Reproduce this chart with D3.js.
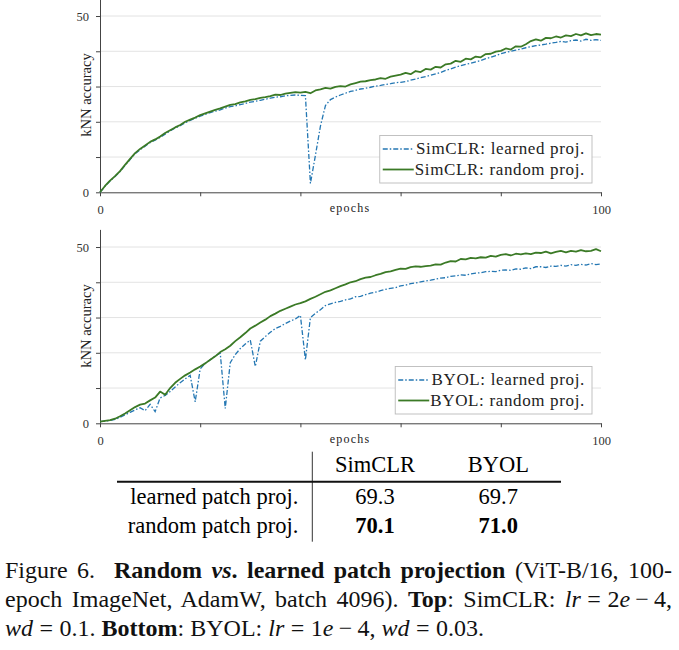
<!DOCTYPE html>
<html>
<head>
<meta charset="utf-8">
<title>Random vs. learned patch projection</title>
<script src="https://d3js.org/d3.v7.min.js"></script>
<style>
body { margin: 0; background: #fff; }
text { font-family: "Liberation Serif", "Times New Roman", serif; }
</style>
</head>
<body>
<svg id="fig"></svg>
<script>
// kNN accuracy per epoch (index = epoch, 0..100)
var simclrLearned = [
  0, 1.7, 3.2, 4.5, 5.9, 7.6, 9.3, 10.9, 12.1, 13.1,
  14.1, 14.8, 15.6, 16.5, 17.4, 18.2, 18.9, 19.7, 20.4, 21.0,
  21.6, 22.1, 22.6, 23.0, 23.4, 23.9, 24.3, 24.5, 24.9, 25.2,
  25.6, 25.8, 26.1, 26.4, 26.7, 27.0, 27.1, 27.4, 27.5, 27.6,
  27.5, 27.4, 2.5, 10.5, 18.8, 24.6, 26.3, 27.0, 27.6, 28.1,
  28.6, 28.9, 29.3, 29.5, 29.8, 30.1, 30.3, 30.6, 30.8, 31.1,
  31.2, 31.4, 31.8, 32.1, 32.5, 32.8, 33.2, 33.6, 34.0, 34.6,
  35.0, 35.5, 35.9, 36.3, 36.6, 37.0, 37.4, 37.9, 38.3, 38.8,
  39.3, 39.7, 40.0, 40.3, 40.6, 41.0, 41.3, 41.6, 41.8, 42.0,
  42.3, 42.5, 42.8, 42.6, 43.0, 43.2, 42.9, 43.4, 43.1, 43.3,
  43.1];
var simclrRandom = [
  0, 1.8, 3.3, 4.6, 6.0, 7.8, 9.5, 11.1, 12.3, 13.3,
  14.3, 15.0, 15.8, 16.8, 17.6, 18.4, 19.1, 20.0, 20.6, 21.2,
  21.9, 22.4, 22.9, 23.4, 23.8, 24.3, 24.8, 25.0, 25.5, 25.8,
  26.2, 26.4, 26.8, 27.0, 27.3, 27.7, 27.6, 28.0, 28.2, 28.4,
  28.3, 28.5, 28.1, 28.9, 29.2, 29.6, 29.4, 29.9, 30.1, 30.0,
  30.6, 31.0, 31.4, 31.5, 31.8, 32.0, 32.4, 32.2, 32.8, 33.1,
  33.4, 33.9, 33.5, 34.4, 34.1, 35.0, 34.8, 35.6, 35.4, 36.3,
  36.5, 37.3, 37.0, 37.9, 37.7, 38.5, 38.3, 39.2, 39.3, 39.9,
  40.1, 40.8, 40.5, 41.4, 41.3, 42.0, 42.9, 43.4, 43.0, 43.8,
  43.7, 44.2, 43.9, 44.5, 44.3, 44.9, 44.5, 45.1, 44.6, 44.9,
  44.7];
var byolLearned = [
  0.5, 0.6, 0.8, 1.1, 1.7, 2.4, 3.1, 3.8, 4.4, 3.6,
  5.4, 3.3, 7.2, 7.9, 9.0, 10.3, 11.5, 12.6, 13.6, 6.1,
  15.4, 17.0, 18.0, 19.1, 19.9, 4.2, 17.2, 19.5, 21.2, 22.5,
  23.6, 16.1, 23.3, 24.6, 25.8, 26.9, 27.5, 28.3, 29.0, 29.6,
  30.6, 18.0, 30.0, 31.2, 32.2, 33.4, 33.9, 34.3, 34.6, 35.0,
  35.3, 35.9, 36.0, 36.5, 36.9, 37.2, 37.6, 38.0, 38.3, 38.5,
  39.0, 39.2, 39.6, 39.8, 40.1, 40.4, 40.6, 40.9, 41.2, 41.3,
  41.7, 41.8, 42.1, 42.0, 42.4, 42.6, 42.7, 43.0, 43.1, 43.0,
  43.4, 43.5, 43.4, 43.8, 43.7, 44.1, 43.9, 44.4, 44.4, 44.2,
  44.6, 44.5, 44.8, 44.6, 45.0, 44.8, 45.1, 44.9, 45.3, 45.0,
  45.2];
var byolRandom = [
  0.5, 0.7, 0.9, 1.3, 2.0, 2.8, 3.7, 4.6, 5.3, 5.6,
  6.5, 7.3, 9.0, 8.1, 10.0, 11.5, 12.6, 13.6, 14.4, 15.3,
  16.1, 17.0, 18.0, 19.0, 20.2, 21.0, 22.0, 23.3, 24.4, 25.6,
  26.9, 27.7, 28.6, 29.4, 30.4, 31.1, 31.9, 32.5, 33.1, 33.7,
  34.1, 34.6, 35.3, 35.9, 36.6, 37.3, 37.7, 38.3, 38.9, 39.4,
  40.0, 40.3, 40.9, 41.3, 41.5, 42.0, 42.4, 42.9, 43.1, 43.5,
  43.9, 43.8, 44.3, 44.5, 44.4, 44.6, 44.7, 45.1, 45.0, 45.6,
  46.0, 45.9, 46.6, 46.5, 46.9, 46.8, 47.1, 47.0, 47.5, 47.3,
  47.8, 48.0, 47.6, 48.1, 47.9, 48.2, 48.0, 48.4, 48.3, 48.7,
  48.2, 48.6, 48.9, 48.5, 48.9, 48.7, 49.1, 48.8, 48.9, 49.4,
  48.8];

var xTicks = [0, 20, 40, 60, 80, 100];
var yTicks = [0, 10, 20, 30, 40, 50];
var xLabelled = [0, 100];
var yLabelled = [0, 50];

var tableCols = ["SimCLR", "BYOL"];
var tableRows = ["learned patch proj.", "random patch proj."];
var tableVals = [[69.3, 69.7], [70.1, 71.0]];
var tableBold = [false, true];

var blue = "#2477b3";
var green = "#3b7a26";
var serif = '"Liberation Serif", "Times New Roman", serif';

var width = 679, height = 650;
var svg = d3.select('#fig').attr('width', width).attr('height', height);

var x = d3.scaleLinear().domain([0, 100]).range([100, 601]);
var y = d3.scaleLinear().domain([0, 55]).range([192.3, -1.6]);

var line = d3.line()
  .x(function(d, i) { return x(i); })
  .y(function(d) { return y(d); });

function drawPanel(offset, learned, random, method) {
  var g = svg.append('g').attr('transform', 'translate(0,' + offset + ')');

  // light horizontal grid
  g.selectAll('.grid')
    .data(yTicks.slice(1))
    .enter().append('line')
    .attr('class', 'grid')
    .attr('x1', x(0)).attr('x2', x(100))
    .attr('y1', function(d) { return y(d); })
    .attr('y2', function(d) { return y(d); })
    .attr('stroke', '#dcdcdc').attr('stroke-width', 0.8);

  var xa = g.append('g')
    .attr('transform', 'translate(0,' + y(0) + ')')
    .call(d3.axisBottom(x).tickValues(xTicks).tickSize(4).tickSizeOuter(0).tickPadding(9)
      .tickFormat(function(d) { return xLabelled.indexOf(d) >= 0 ? d : ''; }));
  var ya = g.append('g')
    .attr('transform', 'translate(' + x(0) + ',0)')
    .call(d3.axisLeft(y).tickValues(yTicks).tickSize(4).tickSizeOuter(0).tickPadding(7)
      .tickFormat(function(d) { return yLabelled.indexOf(d) >= 0 ? d : ''; }));
  [xa, ya].forEach(function(a) {
    a.attr('font-family', serif).attr('font-size', 12.5);
    a.select('.domain').attr('stroke', '#444');
    a.selectAll('.tick line').attr('stroke', '#444');
    a.selectAll('.tick text').attr('fill', '#333');
  });

  // series
  g.append('path')
    .attr('d', line(learned))
    .attr('fill', 'none').attr('stroke', blue).attr('stroke-width', 1.3)
    .attr('stroke-dasharray', '5,2,1.5,2');
  g.append('path')
    .attr('d', line(random))
    .attr('fill', 'none').attr('stroke', green).attr('stroke-width', 1.8)
    .attr('stroke-linejoin', 'round');

  // axis titles
  g.append('text')
    .attr('transform', 'translate(91,95) rotate(-90)')
    .attr('text-anchor', 'middle').attr('font-size', 14.5).attr('fill', '#222')
    .text('kNN accuracy');
  g.append('text')
    .attr('x', 350).attr('y', 211.5)
    .attr('text-anchor', 'middle').attr('font-size', 12).attr('letter-spacing', 1.2)
    .attr('fill', '#222')
    .text('epochs');

  // legend
  var items = [
    { name: method + ': learned proj.', color: blue, dash: '5,2,1.5,2', w: 1.3 },
    { name: method + ': random proj.', color: green, dash: null, w: 1.8 }
  ];
  var leg = g.append('g');
  var box = leg.append('rect');
  var texts = leg.selectAll('text')
    .data(items)
    .enter().append('text')
    .attr('x', 585).attr('y', function(d, i) { return 154 + i * 20.5; })
    .attr('text-anchor', 'end').attr('font-size', 17).attr('letter-spacing', 0.65)
    .attr('fill', '#222')
    .text(function(d) { return d.name; });
  var tw = d3.max(texts.nodes(), function(n) { return n.getComputedTextLength(); });
  var start = 585 - tw;
  box.attr('x', start - 35).attr('y', 135.5)
    .attr('width', 592 - (start - 35)).attr('height', 47.5)
    .attr('fill', '#fff').attr('stroke', '#bbb').attr('stroke-width', 0.9);
  leg.selectAll('.sample')
    .data(items)
    .enter().append('line')
    .attr('class', 'sample')
    .attr('x1', start - 32).attr('x2', start - 1)
    .attr('y1', function(d, i) { return 149 + i * 20.5; })
    .attr('y2', function(d, i) { return 149 + i * 20.5; })
    .attr('stroke', function(d) { return d.color; })
    .attr('stroke-width', function(d) { return d.w; })
    .attr('stroke-dasharray', function(d) { return d.dash; });
}

drawPanel(0, simclrLearned, simclrRandom, 'SimCLR');
drawPanel(231, byolLearned, byolRandom, 'BYOL');

// summary table
var colX = [375, 498.3];
var rowY = [504, 533.3];
svg.append('line')
  .attr('x1', 312.3).attr('x2', 312.3).attr('y1', 451.7).attr('y2', 541.7)
  .attr('stroke', '#333').attr('stroke-width', 1);
svg.append('line')
  .attr('x1', 117).attr('x2', 561).attr('y1', 481.7).attr('y2', 481.7)
  .attr('stroke', '#111').attr('stroke-width', 2);
svg.selectAll('.colhead')
  .data(tableCols)
  .enter().append('text')
  .attr('x', function(d, i) { return colX[i]; }).attr('y', 471.7)
  .attr('text-anchor', 'middle').attr('font-size', 22.5)
  .text(function(d) { return d; });
svg.selectAll('.rowhead')
  .data(tableRows)
  .enter().append('text')
  .attr('x', 298.3).attr('y', function(d, i) { return rowY[i]; })
  .attr('text-anchor', 'end').attr('font-size', 22.5)
  .text(function(d) { return d; });
tableVals.forEach(function(row, r) {
  svg.selectAll('.cell' + r)
    .data(row)
    .enter().append('text')
    .attr('x', function(d, i) { return colX[i]; }).attr('y', rowY[r])
    .attr('text-anchor', 'middle').attr('font-size', 22.5)
    .attr('font-weight', tableBold[r] ? 'bold' : 'normal')
    .text(function(d) { return d.toFixed(1); });
});

// caption: [text, style (b/i/bi), space before in px (math spacing)]
var rel = 6.5, bin = 5.2;
var captionLines = [
  [["Figure 6.  ", ""], ["Random ", "b"], ["vs", "bi"], [". learned patch projection", "b"], [" (ViT-B/16, 100-", ""]],
  [["epoch ImageNet, AdamW, batch 4096). ", ""], ["Top", "b"], [": SimCLR: ", ""], ["lr", "i"],
   ["=", "", rel], ["2", "", rel], ["e", "i"], ["\u2212", "", bin], ["4,", "", bin]],
  [["wd", "i"], ["=", "", rel], ["0.1. ", "", rel], ["Bottom", "b"], [": BYOL: ", ""], ["lr", "i"],
   ["=", "", rel], ["1", "", rel], ["e", "i"], ["\u2212", "", bin], ["4, ", "", bin], ["wd", "i"],
   ["=", "", rel], ["0.03.", "", rel]]
];
var captionY = [578, 607, 636];
captionLines.forEach(function(parts, li) {
  var t = svg.append('text')
    .attr('x', 5).attr('y', captionY[li])
    .attr('font-size', 24).attr('fill', '#111')
    .style('white-space', 'pre');
  parts.forEach(function(p) {
    t.append('tspan')
      .attr('dx', p[2] || null)
      .attr('font-weight', p[1].indexOf('b') >= 0 ? 'bold' : null)
      .attr('font-style', p[1].indexOf('i') >= 0 ? 'italic' : null)
      .text(p[0]);
  });
  if (li < captionLines.length - 1) {
    // justify the full lines to the column width
    var natural = t.node().getBBox().width;
    var spaces = parts.map(function(p) { return p[0]; }).join('').split(' ').length - 1;
    t.style('word-spacing', ((667 - natural) / spaces) + 'px');
  }
});
</script>
</body>
</html>
